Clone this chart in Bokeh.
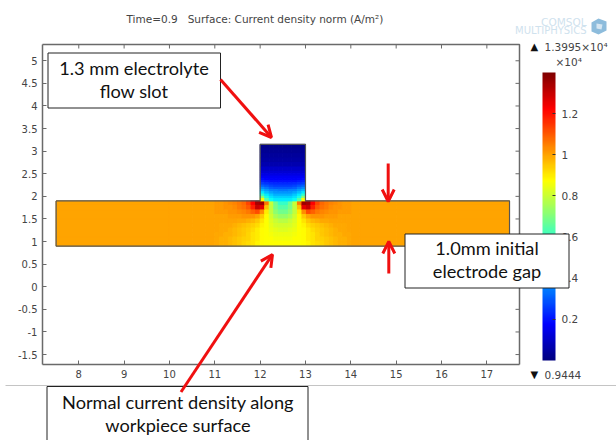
import numpy as np
from bokeh.plotting import figure
from bokeh.models import (ColumnDataSource, LinearAxis, FixedTicker, Label, BoxAnnotation, Arrow,
                          OpenHead, ColorBar, LinearColorMapper, PolyAnnotation)
from bokeh.embed import file_html
from bokeh.resources import INLINE

# axis ticks
x_ticks = [8, 9, 10, 11, 12, 13, 14, 15, 16, 17]
x_labels = ["8", "9", "10", "11", "12", "13", "14", "15", "16", "17"]
y_ticks = [5, 4.5, 4, 3.5, 3, 2.5, 2, 1.5, 1, 0.5, 0, -0.5, -1, -1.5]
y_labels = ["5", "4.5", "4", "3.5", "3", "2.5", "2", "1.5", "1", "0.5", "0", "-0.5", "-1", "-1.5"]
cb_ticks = [0.2, 0.4, 0.6, 0.8, 1, 1.2]
cb_labels = ["0.2", "0.4", "0.6", "0.8", "1", "1.2"]

# current density (x10^4 A/m2) read from the surface, left half of the symmetric geometry
body_x_edges = [7.5, 10.0, 10.5, 10.8, 11.0, 11.1, 11.2, 11.3, 11.4, 11.5, 11.6, 11.7, 11.8, 11.9, 12.0,
                12.1, 12.2, 12.3, 12.4, 12.5]
body_y_edges = [1.9, 1.8, 1.7, 1.6, 1.5, 1.4, 1.3, 1.2, 1.1, 1.0, 0.9]
body_values = [
    [1.00, 1.00, 1.00, 1.00, 1.01, 1.01, 1.02, 1.03, 1.04, 1.06, 1.08, 1.13, 1.22, 1.34, 1.36, 1.06, .80, .68, .60],
    [1.00, 1.00, 1.00, 1.00, 1.01, 1.01, 1.02, 1.02, 1.03, 1.05, 1.07, 1.10, 1.18, 1.30, 1.26, .96, .79, .69, .64],
    [1.00, 1.00, 1.00, 1.00, 1.01, 1.01, 1.01, 1.02, 1.02, 1.03, 1.04, 1.06, 1.09, 1.12, 1.03, .90, .79, .72, .68],
    [1.00, 1.00, 1.00, 1.00, 1.00, 1.00, 1.00, 1.01, 1.01, 1.01, 1.02, 1.02, 1.02, 1.00, .95, .88, .81, .76, .73],
    [1.00, 1.00, 1.00, 1.00, 1.00, 1.00, 1.00, 1.00, 1.00, .99, .99, .98, .97, .95, .91, .87, .83, .80, .78],
    [1.00, 1.00, 1.00, 1.00, 1.00, .99, .99, .99, .98, .97, .96, .95, .94, .92, .89, .87, .84, .82, .81],
    [1.00, 1.00, 1.00, 1.00, 1.00, .99, .99, .98, .97, .96, .95, .94, .92, .90, .88, .87, .85, .84, .83],
    [1.00, 1.00, 1.00, 1.00, .99, .99, .98, .98, .97, .96, .95, .93, .91, .90, .88, .87, .86, .85, .85],
    [1.00, 1.00, 1.00, 1.00, .99, .98, .98, .97, .96, .95, .94, .93, .91, .90, .88, .87, .87, .86, .86],
    [1.00, 1.00, 1.00, 1.00, .99, .98, .98, .97, .96, .95, .93, .92, .91, .89, .88, .87, .87, .87, .87],
]
slot_x_edges = [12.0, 12.1, 12.2, 12.3, 12.4, 12.5]
slot_y_edges = [3.15, 3.05, 2.95, 2.85, 2.75, 2.65, 2.55, 2.5, 2.45, 2.4, 2.35, 2.3, 2.25, 2.2, 2.15, 2.1, 2.05,
                2.0, 1.95, 1.9]
slot_values = [
    [.02, .02, .02, .02, .02],
    [.03, .03, .03, .03, .03],
    [.04, .04, .04, .04, .04],
    [.05, .05, .05, .05, .05],
    [.07, .07, .07, .07, .07],
    [.10, .10, .10, .10, .10],
    [.12, .12, .12, .12, .12],
    [.14, .14, .14, .14, .14],
    [.16, .16, .16, .16, .16],
    [.19, .18, .17, .17, .17],
    [.22, .21, .20, .20, .20],
    [.26, .25, .24, .23, .23],
    [.31, .29, .27, .26, .26],
    [.37, .34, .31, .30, .30],
    [.43, .39, .36, .35, .34],
    [.50, .44, .40, .38, .38],
    [.60, .50, .45, .42, .42],
    [.72, .56, .49, .46, .46],
    [.88, .64, .54, .50, .50],
]
outline_x = [7.5, 12.0, 12.0, 13.0, 13.0, 17.5, 17.5, 7.5, 7.5]
outline_y = [1.9, 1.9, 3.15, 3.15, 1.9, 1.9, 0.9, 0.9, 1.9]

X0, X1, Y0, Y1 = 7.2, 17.72, -1.72, 5.36   # plot box
FL, FT, FW, FH = 42, 44, 477, 320          # plot box in page pixels


def dx(px):
    return X0 + (px - FL) * (X1 - X0) / FW


def dy(py):
    return Y1 - (py - FT) * (Y1 - Y0) / FH


# jet palette
stops = np.linspace(0, 1, 256)
r = np.interp(stops, [0, .375, .625, .875, 1], [0, 0, 1, 1, .5])
g = np.interp(stops, [0, .125, .375, .625, .875, 1], [0, 0, 1, 1, 0, 0])
b = np.interp(stops, [0, .125, .375, .625, 1], [.5, 1, 1, 0, 0])
jet = ["#%02x%02x%02x" % (int(a * 255), int(c * 255), int(d * 255)) for a, c, d in zip(r, g, b)]
mapper = LinearColorMapper(palette=jet, low=0, high=1.4)


def cells(xe, ye, vals):
    out = {"left": [], "right": [], "top": [], "bottom": [], "v": []}
    for j, row in enumerate(vals):
        for i, v in enumerate(row):
            for a, c in ((xe[i], xe[i + 1]), (25 - xe[i + 1], 25 - xe[i])):
                out["left"].append(a)
                out["right"].append(c)
                out["top"].append(ye[j])
                out["bottom"].append(ye[j + 1])
                out["v"].append(v)
    return out


# the frame fills the canvas so callouts may leave the plot box; axes sit at fixed locations on the box
p = figure(width=616, height=440, x_range=(dx(0), dx(616)), y_range=(dy(440), dy(0)), output_backend="svg",
           toolbar_location=None, x_axis_type=None, y_axis_type=None,
           min_border_left=0, min_border_right=0, min_border_top=0, min_border_bottom=0)
AX = "#6a6a6a"
TXT = "#444444"
p.outline_line_color = None
p.grid.visible = False

for loc, ticks, labs, fixed, bounds in (("below", x_ticks, x_labels, Y0, (X0, X1)),
                                        ("left", y_ticks, y_labels, X0, (Y0, Y1))):
    ax = LinearAxis(ticker=FixedTicker(ticks=ticks), major_label_overrides=dict(zip(ticks, labs)),
                    fixed_location=fixed, bounds=bounds)
    ax.major_tick_in = 4
    ax.major_tick_out = 0
    ax.minor_tick_line_color = None
    ax.axis_line_color = AX
    ax.axis_line_width = 1.5
    ax.major_tick_line_color = AX
    ax.major_label_text_font = "DejaVu Sans"
    ax.major_label_text_color = TXT
    ax.major_label_text_font_size = "10px"
    ax.major_label_standoff = 5
    p.add_layout(ax, loc)

# top and right edges of the plot box, with inward ticks
p.line([X0, X1, X1], [Y1, Y1, Y0], line_color=AX, line_width=1.5)
p.segment(x_ticks, [Y1] * len(x_ticks), x_ticks, [dy(FT + 4)] * len(x_ticks), line_color=AX)
p.segment([X1] * len(y_ticks), y_ticks, [dx(FL + FW - 4)] * len(y_ticks), y_ticks, line_color=AX)

for src in (cells(body_x_edges, body_y_edges, body_values), cells(slot_x_edges, slot_y_edges, slot_values)):
    cm = {"field": "v", "transform": mapper}
    p.quad(left="left", right="right", top="top", bottom="bottom", source=ColumnDataSource(src),
           fill_color=cm, line_color=cm, line_width=1)
p.line(outline_x, outline_y, line_color="#555555", line_width=1.2)

cb = ColorBar(color_mapper=mapper, ticker=FixedTicker(ticks=cb_ticks),
              major_label_overrides=dict(zip(cb_ticks, cb_labels)),
              width=13, height=288, location=(542, 80), padding=0, margin=0,
              background_fill_color=None, bar_line_color=None, major_tick_line_color="#333333",
              major_tick_in=3, major_tick_out=0, label_standoff=6, minor_tick_line_color=None,
              major_label_text_font="DejaVu Sans", major_label_text_font_size="10.5px",
              major_label_text_color=TXT)
p.add_layout(cb, "center")

PANEL = "center"


def label(px, py, text, font="DejaVu Sans", size="10.5px", color=TXT, align="left"):
    p.add_layout(Label(x=dx(px), y=dy(py), text=text, text_font=font, text_font_size=size, text_color=color,
                       text_align=align, text_baseline="middle"), PANEL)


label(126, 18, "Time=0.9\u00a0\u00a0\u00a0Surface: Current density norm (A/m²)")

# logo
label(586, 21.5, "COMSOL", size="10.5px", color="#cfe2ee", align="right")
label(586, 29.5, "MULTIPHYSICS", size="10px", color="#cfe2ee", align="right")
cube_x = [598, 606, 606, 598, 591, 591]
cube_y = [18, 21, 30, 34, 31, 22]
p.add_layout(PolyAnnotation(xs=[dx(v) for v in cube_x], ys=[dy(v) for v in cube_y], fill_color="#8dbcdc",
                            fill_alpha=1, line_color=None), PANEL)
cube_in_x = [596, 602, 601, 596]
cube_in_y = [23, 24, 29, 28]
p.add_layout(PolyAnnotation(xs=[dx(v) for v in cube_in_x], ys=[dy(v) for v in cube_in_y], fill_color="#d5e6f2",
                            fill_alpha=1, line_color=None), PANEL)

# colour bar range labels
label(530, 46, "▲", size="10px", color="#111111")
label(544, 46, "1.3995×10⁴")
label(555, 61, "×10⁴")
label(530, 374, "▼", size="10px", color="#111111")
label(544, 374, "0.9444")

# slide rule behind the callouts
p.add_layout(Arrow(end=None, x_start=dx(5), y_start=dy(385), x_end=dx(616), y_end=dy(385),
                   line_color="#c4c4c4", line_width=1), PANEL)


def box(l, t, r, b):
    p.add_layout(BoxAnnotation(left=dx(l), right=dx(r), top=dy(t), bottom=dy(b), fill_color="white", fill_alpha=1,
                               line_color="#222222", line_width=1, line_alpha=1), PANEL)


def arrow(x1, y1, x2, y2):
    p.add_layout(Arrow(end=OpenHead(size=12, line_color="#f01010", line_width=3), x_start=dx(x1), y_start=dy(y1),
                       x_end=dx(x2), y_end=dy(y2), line_color="#f01010", line_width=3), PANEL)


box(47.5, 52.5, 220, 107.5)
box(404.5, 233.5, 568.5, 287.5)
box(46.5, 386, 307.5, 460)
for a in ((220, 79, 271, 137), (387.7, 163, 387.7, 201), (388.3, 273, 388.3, 241), (180.5, 391.5, 272, 254)):
    arrow(*a)

CAL = "Lato"
F = "18.2px"
label(133.5, 67.5, "1.3 mm electrolyte", CAL, F, "#111111", "center")
label(133.5, 90.5, "flow slot", CAL, F, "#111111", "center")
label(486.5, 247.5, "1.0mm initial", CAL, F, "#111111", "center")
label(486.5, 270.5, "electrode gap", CAL, F, "#111111", "center")
label(177.5, 401.5, "Normal current density along", CAL, F, "#111111", "center")
label(177.5, 424.5, "workpiece surface", CAL, F, "#111111", "center")

open("out.html", "w").write(file_html(p, INLINE))
